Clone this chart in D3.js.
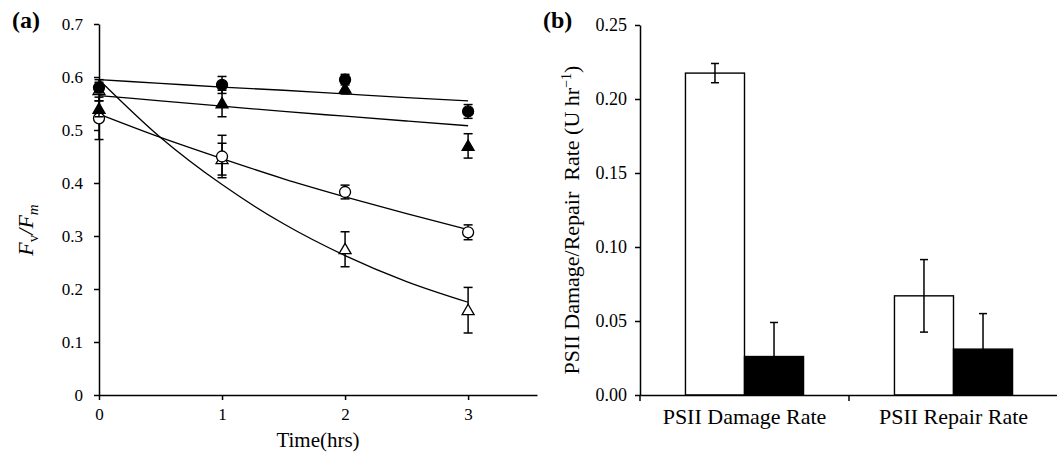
<!DOCTYPE html>
<html>
<head>
<meta charset="utf-8">
<script src="https://cdn.jsdelivr.net/npm/d3@7"></script>
<style>
  body { margin: 0; background: #fff; }
  svg { display: block; font-family: 'Liberation Serif', 'Times New Roman', serif; }
  .axis { font-family: 'Liberation Serif', 'Times New Roman', serif; }
  .axis path, .axis line { stroke: #000; stroke-width: 1.5; }
  .axis text { fill: #000; font-family: 'Liberation Serif', 'Times New Roman', serif; }
</style>
</head>
<body>
<div id="chart"></div>
<script>
// panel (a): Fv/Fm over time
const times = [0, 1, 2, 3];
const filledCircleMean = [0.580, 0.585, 0.595, 0.535];
const filledCircleErr = [0.010, 0.016, 0.010, 0.013];
const filledTriangleMean = [0.540, 0.550, 0.578, 0.470];
const filledTriangleErr = [0.015, 0.025, 0.010, 0.023];
const openCircleMean = [0.522, 0.450, 0.383, 0.307];
const openCircleErr = [0.040, 0.040, 0.013, 0.014];
const openTriangleMean = [0.575, 0.445, 0.275, 0.160];
const openTriangleErr = [0.020, 0.030, 0.033, 0.043];

// fitted curves
const fitTimes = [0, 0.5, 1, 1.5, 2, 2.5, 3];
const filledCircleFit = [0.595, 0.588, 0.581, 0.575, 0.568, 0.561, 0.555];
const filledTriangleFit = [0.565, 0.555, 0.545, 0.535, 0.526, 0.517, 0.508];
const openCircleFit = [0.530, 0.486, 0.446, 0.408, 0.374, 0.342, 0.312];
const openTriangleFit = [0.595, 0.486, 0.397, 0.323, 0.263, 0.214, 0.175];

const yTicksA = [0, 0.1, 0.2, 0.3, 0.4, 0.5, 0.6, 0.7];

// panel (b): PSII damage / repair rates
const barCategories = ['PSII Damage Rate', 'PSII Repair Rate'];
const openBarValues = [0.2175, 0.067];
const openBarErr = [0.0065, 0.0245];
const filledBarValues = [0.026, 0.031];
const filledBarErr = [0.023, 0.024];
const yTicksB = [0, 0.05, 0.10, 0.15, 0.20, 0.25];

const width = 1057;
const height = 456;

const svg = d3.select('#chart')
  .append('svg')
  .attr('width', width)
  .attr('height', height);

svg.append('rect').attr('width', width).attr('height', height).attr('fill', '#fff');

// ---------- panel (a) ----------
const xA = d3.scaleLinear().domain([0, 3.56]).range([99, 537]);
const yA = d3.scaleLinear().domain([0, 0.7]).range([395, 24]);

const gA = svg.append('g');

gA.append('g')
  .attr('class', 'axis')
  .attr('transform', `translate(0, ${yA(0)})`)
  .call(d3.axisBottom(xA).tickValues(times).tickFormat(d3.format('d')).tickSizeInner(5).tickSizeOuter(0).tickPadding(8))
  .selectAll('text')
  .style('font-size', '17px');

gA.append('g')
  .attr('class', 'axis')
  .attr('transform', `translate(${xA(0)}, 0)`)
  .call(d3.axisLeft(yA).tickValues(yTicksA).tickFormat((d) => d === 0 ? '0' : d3.format('.1f')(d)).tickSizeInner(5).tickSizeOuter(0).tickPadding(11))
  .selectAll('text')
  .style('font-size', '17px');

const line = d3.line()
  .x((d) => xA(d[0]))
  .y((d) => yA(d[1]))
  .curve(d3.curveMonotoneX);

const fits = [filledCircleFit, filledTriangleFit, openCircleFit, openTriangleFit];
gA.append('g')
  .selectAll('path')
  .data(fits)
  .join('path')
  .attr('d', (f) => line(fitTimes.map((t, i) => [t, f[i]])))
  .attr('fill', 'none')
  .attr('stroke', '#000')
  .attr('stroke-width', 1.3);

// drawing order: open triangle, open circle, filled triangle, filled circle
const seriesA = [
  { mean: openTriangleMean, err: openTriangleErr, shape: 'triangle', fill: '#fff' },
  { mean: openCircleMean, err: openCircleErr, shape: 'circle', fill: '#fff' },
  { mean: filledTriangleMean, err: filledTriangleErr, shape: 'triangle', fill: '#000' },
  { mean: filledCircleMean, err: filledCircleErr, shape: 'circle', fill: '#000' },
];

const triSym = d3.symbol().type(d3.symbolTriangle).size(62);

seriesA.forEach((s) => {
  const pts = times.map((t, i) => ({ t, v: s.mean[i], e: s.err[i] }));
  const g = gA.append('g');

  const eb = g.selectAll('g.eb').data(pts).join('g').attr('class', 'eb')
    .attr('stroke', '#000').attr('stroke-width', 1.5);
  eb.append('line')
    .attr('x1', (d) => xA(d.t)).attr('x2', (d) => xA(d.t))
    .attr('y1', (d) => yA(d.v - d.e)).attr('y2', (d) => yA(d.v + d.e));
  eb.append('line')
    .attr('x1', (d) => xA(d.t) - 4.5).attr('x2', (d) => xA(d.t) + 4.5)
    .attr('y1', (d) => yA(d.v + d.e)).attr('y2', (d) => yA(d.v + d.e));
  eb.append('line')
    .attr('x1', (d) => xA(d.t) - 4.5).attr('x2', (d) => xA(d.t) + 4.5)
    .attr('y1', (d) => yA(d.v - d.e)).attr('y2', (d) => yA(d.v - d.e));

  if (s.shape === 'circle') {
    g.selectAll('circle').data(pts).join('circle')
      .attr('cx', (d) => xA(d.t))
      .attr('cy', (d) => yA(d.v))
      .attr('r', 5.5)
      .attr('fill', s.fill)
      .attr('stroke', '#000')
      .attr('stroke-width', 1.3);
  } else {
    g.selectAll('path.m').data(pts).join('path')
      .attr('class', 'm')
      .attr('d', triSym)
      .attr('transform', (d) => `translate(${xA(d.t)}, ${yA(d.v) + 1})`)
      .attr('fill', s.fill)
      .attr('stroke', '#000')
      .attr('stroke-width', 1.3);
  }
});

gA.append('text')
  .attr('x', 12).attr('y', 28)
  .style('font-size', '24px').style('font-weight', 'bold')
  .text('(a)');

gA.append('text')
  .attr('x', (xA.range()[0] + xA.range()[1]) / 2)
  .attr('y', 447)
  .attr('text-anchor', 'middle')
  .style('font-size', '21px')
  .text('Time(hrs)');

const yLabA = gA.append('text')
  .attr('transform', 'translate(33, 230) rotate(-90)')
  .attr('text-anchor', 'middle')
  .style('font-size', '22px')
  .style('font-style', 'italic');
yLabA.append('tspan').text('F');
yLabA.append('tspan').attr('dy', 5).style('font-size', '15px').style('font-style', 'normal').text('v');
yLabA.append('tspan').attr('dy', -5).text('/F');
yLabA.append('tspan').attr('dy', 5).style('font-size', '15px').text('m');

// ---------- panel (b) ----------
const xB = d3.scaleBand().domain(barCategories).range([640, 1058]).paddingInner(0).paddingOuter(0);
const xSub = d3.scaleBand().domain(['open', 'filled']).range([0, xB.bandwidth()]).paddingInner(0).paddingOuter(0.77);
const yB = d3.scaleLinear().domain([0, 0.25]).range([395, 25]);

const gB = svg.append('g');

const bars = barCategories.map((c, i) => [
  { cat: c, key: 'open', v: openBarValues[i], e: openBarErr[i], fill: '#fff' },
  { cat: c, key: 'filled', v: filledBarValues[i], e: filledBarErr[i], fill: '#000' },
]).flat();

gB.append('g')
  .selectAll('rect')
  .data(bars)
  .join('rect')
  .attr('x', (d) => xB(d.cat) + xSub(d.key))
  .attr('y', (d) => yB(d.v))
  .attr('width', xSub.bandwidth())
  .attr('height', (d) => yB(0) - yB(d.v))
  .attr('fill', (d) => d.fill)
  .attr('stroke', '#000')
  .attr('stroke-width', 1.4);

const ebB = gB.append('g').selectAll('g').data(bars).join('g')
  .attr('stroke', '#000').attr('stroke-width', 1.5);
const cx = (d) => xB(d.cat) + xSub(d.key) + xSub.bandwidth() / 2;
ebB.append('line')
  .attr('x1', cx).attr('x2', cx)
  .attr('y1', (d) => yB(d.v - d.e)).attr('y2', (d) => yB(d.v + d.e));
ebB.append('line')
  .attr('x1', (d) => cx(d) - 4).attr('x2', (d) => cx(d) + 4)
  .attr('y1', (d) => yB(d.v + d.e)).attr('y2', (d) => yB(d.v + d.e));
ebB.append('line')
  .attr('x1', (d) => cx(d) - 4).attr('x2', (d) => cx(d) + 4)
  .attr('y1', (d) => yB(d.v - d.e)).attr('y2', (d) => yB(d.v - d.e));

// x axis: labels centred on bands, ticks on band edges
const xAxisB = gB.append('g')
  .attr('class', 'axis')
  .attr('transform', `translate(0, ${yB(0)})`)
  .call(d3.axisBottom(xB).tickSize(0).tickPadding(13));
xAxisB.selectAll('text').style('font-size', '22px');
xAxisB.selectAll('line.edge')
  .data(barCategories.map((c) => xB(c)).concat([xB.range()[1]]))
  .join('line')
  .attr('class', 'edge')
  .attr('x1', (d) => d).attr('x2', (d) => d)
  .attr('y1', 0).attr('y2', 6);

gB.append('g')
  .attr('class', 'axis')
  .attr('transform', `translate(${xB.range()[0]}, 0)`)
  .call(d3.axisLeft(yB).tickValues(yTicksB).tickFormat(d3.format('.2f')).tickSizeInner(5).tickSizeOuter(0).tickPadding(8))
  .selectAll('text')
  .style('font-size', '18px');

gB.append('text')
  .attr('x', 543).attr('y', 28)
  .style('font-size', '24px').style('font-weight', 'bold')
  .text('(b)');

const yLabB = gB.append('text')
  .attr('transform', 'translate(579, 220) rotate(-90)')
  .attr('text-anchor', 'middle')
  .style('font-size', '22px')
  .style('white-space', 'pre');
yLabB.append('tspan').text('PSII Damage/Repair  Rate (U hr');
yLabB.append('tspan').attr('dy', -8).style('font-size', '14px').text('\u22121');
yLabB.append('tspan').attr('dy', 8).text(')');
</script>
</body>
</html>
